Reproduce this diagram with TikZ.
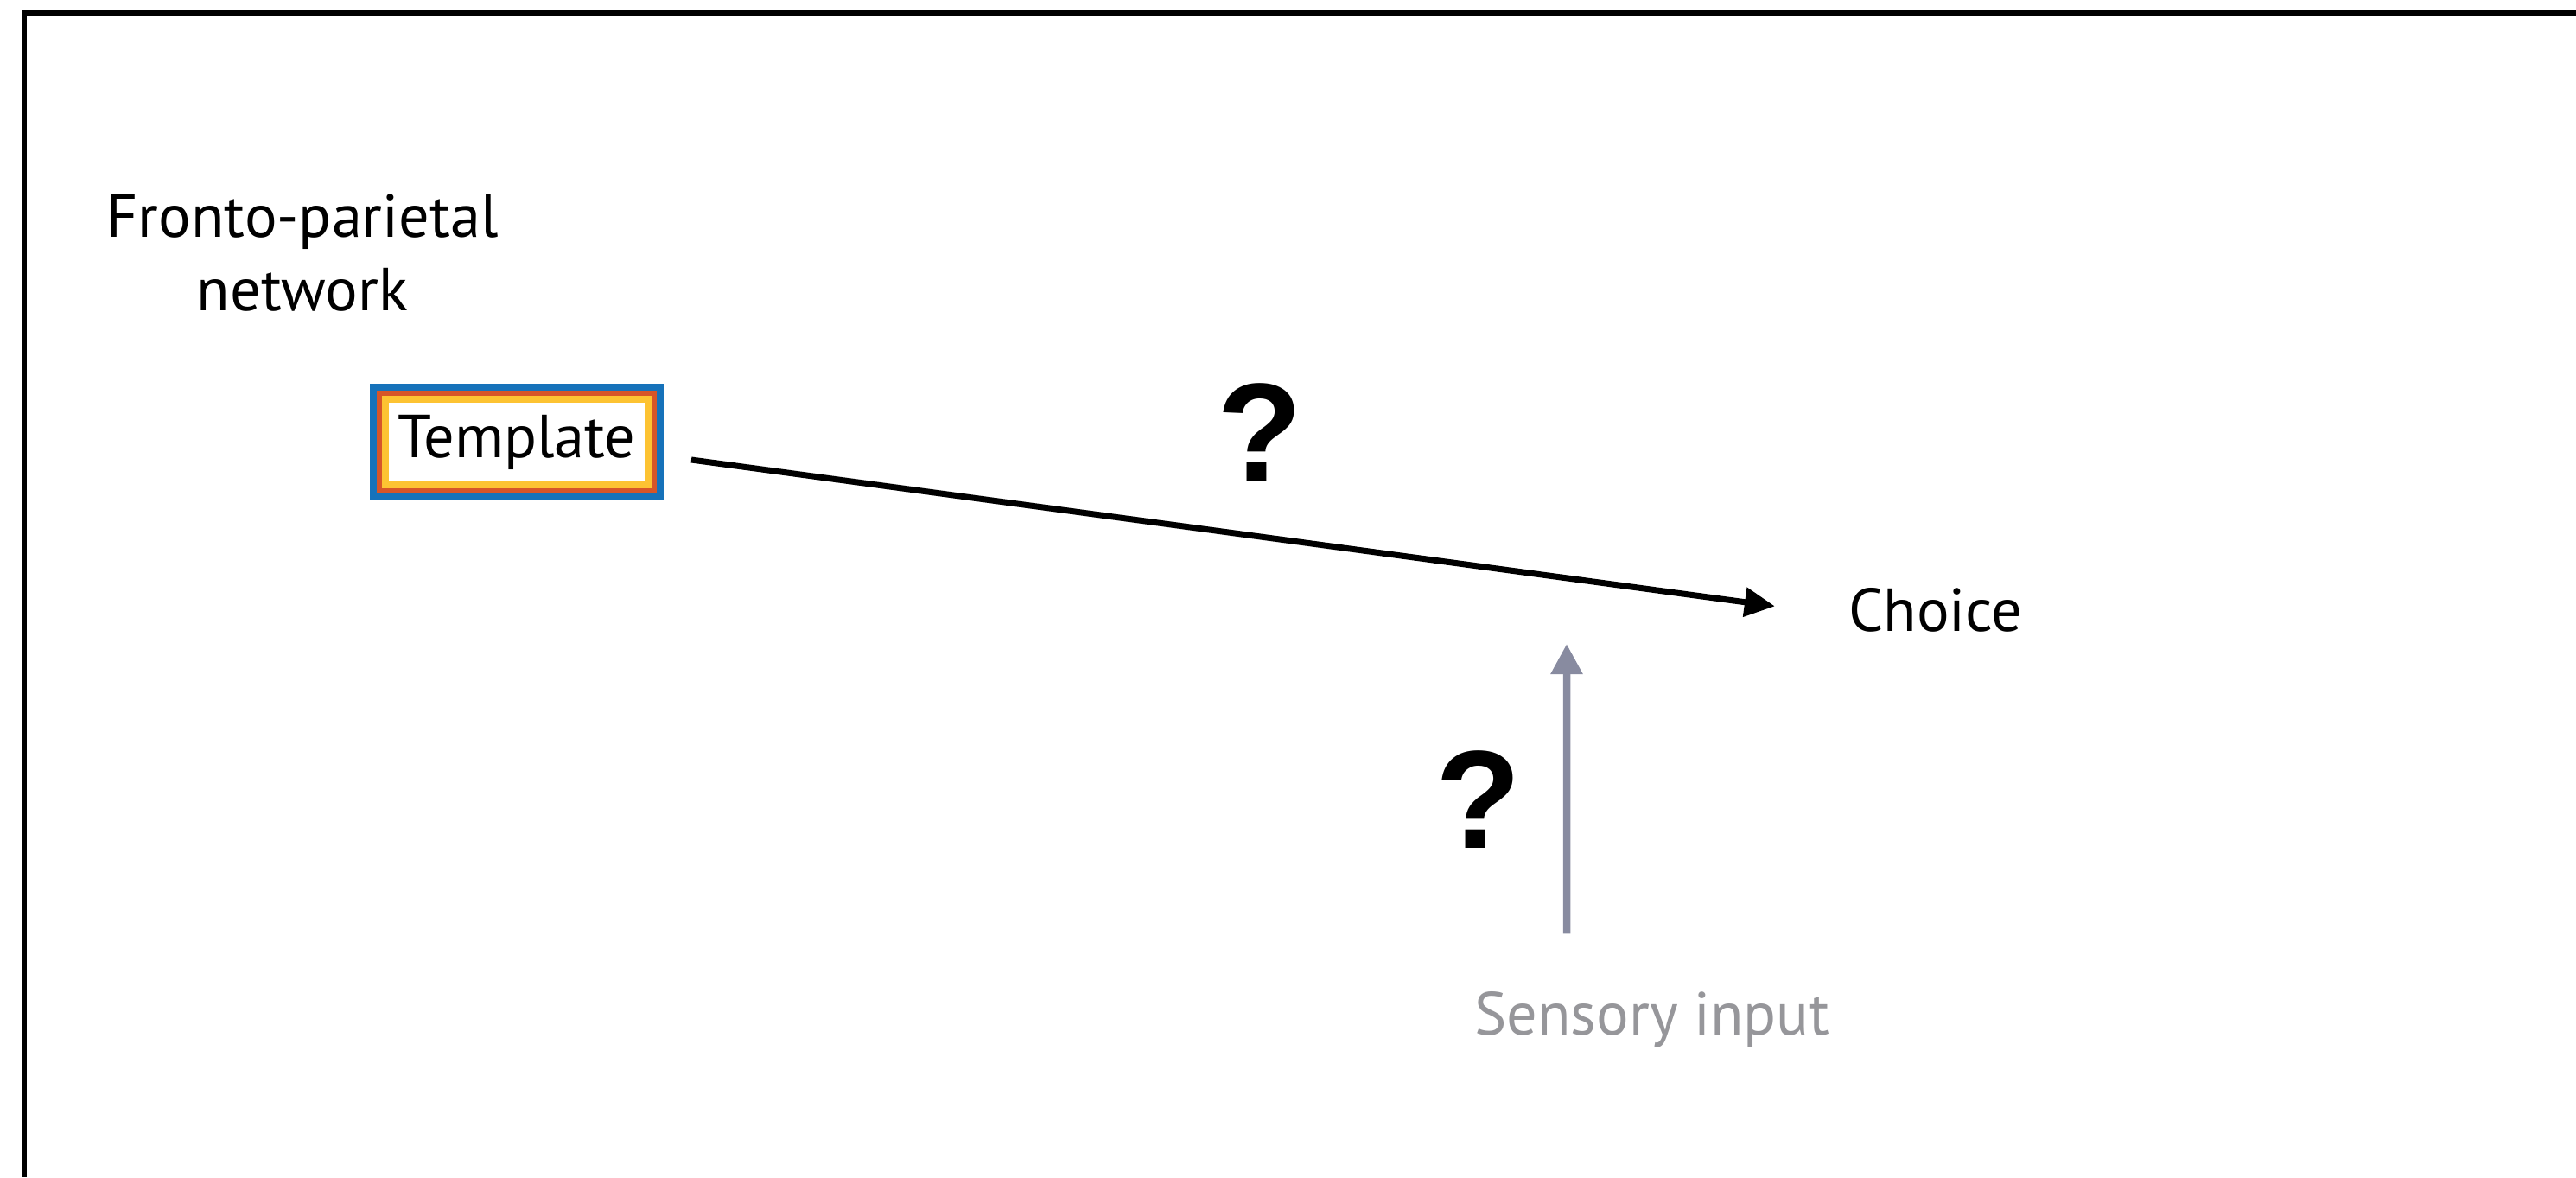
\documentclass[tikz,border=0pt]{standalone}
\usepackage{fontspec}
\setsansfont{PT Sans}
\newfontfamily\qmfont{Liberation Sans}
\usetikzlibrary{arrows.meta,positioning,calc}
\definecolor{tb}{RGB}{22,114,186}
\definecolor{tr}{RGB}{215,85,40}
\definecolor{ty}{RGB}{253,195,50}
\definecolor{sg}{RGB}{136,139,160}
\definecolor{tg}{RGB}{150,150,154}

\begin{document}
\begin{tikzpicture}[
    lbl/.style={font=\fontsize{20}{24.2}\selectfont\sffamily, inner sep=0pt,
                align=center, text=#1},
    lbl/.default=black,
    qm/.style={font=\fontsize{46}{46}\selectfont\qmfont\bfseries, inner sep=0pt},
    tbox/.style={draw=ty, line width=0.08cm, fill=white, inner sep=0pt,
                 minimum width=3.04cm, minimum height=0.99cm},
    ring/.style={draw=#1, line width=0.07cm},
    arr/.style={-{Triangle[length=0.35cm,width=0.33cm]}, line width=0.07cm},
    garr/.style={-{Triangle[length=0.35cm,width=0.35cm]}, line width=0.085cm, sg}]

    \useasboundingbox (0,0) rectangle (29.81,-13.62);
    \draw[line width=0.06cm] (0.28,-13.62) |- (29.81,-0.15);

    % ── fronto-parietal template ─────────────────────────────
    \node[lbl] (fpn) at (3.50,-2.93) {Fronto-parietal\\network};
    \node[tbox, font=\fontsize{20}{24}\selectfont\sffamily] (tmpl) at (5.98,-5.115) {Template};
    \draw[ring=tr, line width=0.06cm] ($(tmpl.south west)+(-0.03,-0.03)$) rectangle ($(tmpl.north east)+(0.03,0.03)$);
    \draw[ring=tb, line width=0.08cm] ($(tmpl.south west)+(-0.10,-0.10)$) rectangle ($(tmpl.north east)+(0.10,0.10)$);

    % ── choice ───────────────────────────────────────────────
    \node[lbl, anchor=base] (choice) at (22.40,-7.30) {Choice};
    \draw[arr] ([xshift=0.46cm, yshift=-0.205cm]tmpl.east) -- ([xshift=-0.85cm, yshift=0.04cm]choice.west);
    \node[qm] (q1) at (14.58,-5.00) {?};

    % ── sensory input ────────────────────────────────────────
    \node[lbl=tg, anchor=base] (sens) at (19.12,-11.97) {Sensory input};
    \coordinate (sTip) at (18.13,-7.45);
    \draw[garr] ([xshift=-0.99cm, yshift=0.66cm]sens.north) -- (sTip);
    \node[qm] (q2) at (17.11,-9.25) {?};

  \end{tikzpicture}
\end{document}
